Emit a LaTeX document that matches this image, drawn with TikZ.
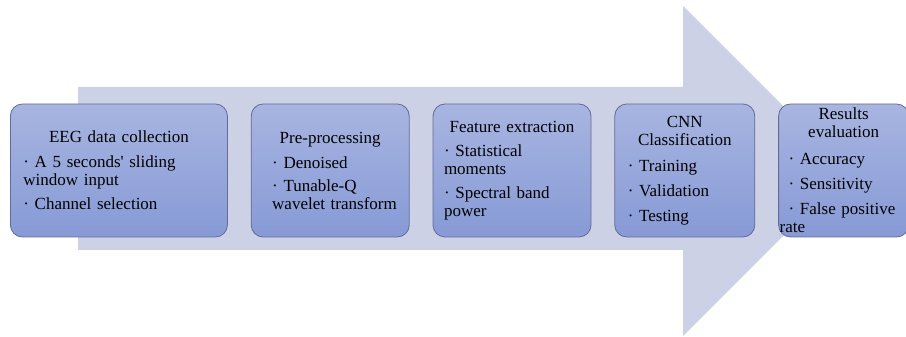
\documentclass[tikz,border=0pt]{standalone}
\usepackage{fontspec}
\setmainfont{Liberation Serif}
\usetikzlibrary{positioning}
\definecolor{arrowfill}{RGB}{205,209,230}
\definecolor{boxtop}{RGB}{168,181,225}
\definecolor{boxbottom}{RGB}{135,154,214}
\definecolor{boxline}{RGB}{98,108,150}
\newcommand{\boxtitle}[1]{\hspace*{\fill}#1\hspace*{\fill}\null}
\setlength{\parindent}{0pt}
\hyphenpenalty=10000
\exhyphenpenalty=10000

\begin{document}
\begin{tikzpicture}[x=1pt,y=1pt,node distance=23pt,
    stage/.style={draw=boxline,line width=0.8pt,rounded corners=12pt,top color=boxtop,bottom color=boxbottom,
      minimum height=133pt,inner ysep=0pt,align=left,font=\fontsize{17}{18}\selectfont}]
  \useasboundingbox (0,0) rectangle (906,337);
  % big background arrow
  \fill[arrowfill] (78,87) -- (78,250) -- (683,250) -- (683,331) -- (848,166) -- (683,1) -- (683,87) -- cycle;
  \node[stage,text width=191pt,inner xsep=13pt,anchor=west] (s_1) at (10,166.5)
    {\boxtitle{EEG data collection}\\[7pt]· A 5 seconds\textquotesingle{} sliding\\window input\\[6pt]· Channel selection};
  \node[stage,text width=116pt,inner xsep=21pt] [right=of s_1] (s_2)
    {\boxtitle{Pre-processing}\\[7pt]· Denoised\\[5pt]· Tunable-Q\\\mbox{wavelet transform}};
  \node[stage,text width=136pt,inner xsep=11pt] [right=of s_2] (s_3)
    {\boxtitle{Feature extraction}\\[6pt]· Statistical\\moments\\[6pt]· Spectral band\\power};
  \node[stage,text width=114pt,inner xsep=13pt] [right=of s_3] (s_4)
    {\boxtitle{CNN}\\\boxtitle{Classification}\\[8pt]· Training\\[7pt]· Validation\\[7pt]· Testing};
  \node[stage,text width=110pt,inner xsep=10pt] [right=of s_4] (s_5)
    {\boxtitle{Results}\\\boxtitle{evaluation}\\[9pt]· Accuracy\\[7pt]· Sensitivity\\[7pt]\mbox{· False positive}\\\hspace*{-9pt}rate};
\end{tikzpicture}
\end{document}
